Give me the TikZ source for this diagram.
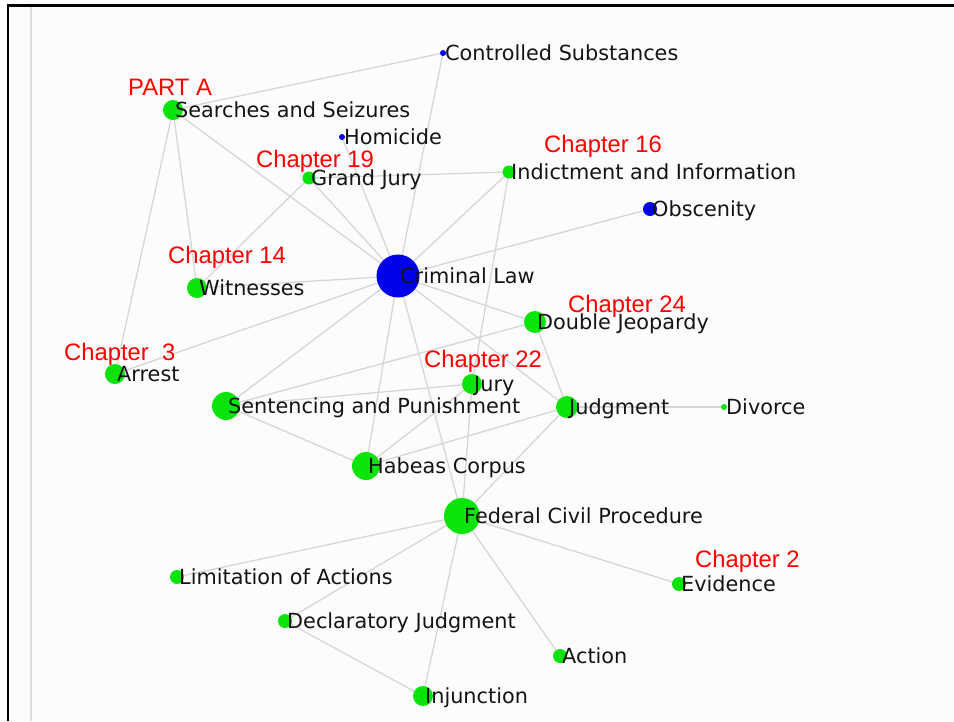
\documentclass[tikz,border=0pt]{standalone}
\usepackage{fontspec}
\setmainfont{DejaVu Sans}
\newfontfamily\redfont{Liberation Sans}
\pgfdeclarelayer{bglayer}
\pgfdeclarelayer{edgelayer}
\pgfsetlayers{bglayer,edgelayer,main}
\definecolor{ngreen}{RGB}{10,228,10}
\definecolor{nblue}{RGB}{0,0,235}
\definecolor{edgegray}{RGB}{214,214,214}
\definecolor{panel}{RGB}{252,252,252}
\definecolor{rulegray}{RGB}{220,220,220}
\definecolor{labtext}{RGB}{20,20,20}
\tikzset{
  gdot/.style={circle, fill=ngreen, inner sep=0pt, minimum size=#1},
  bdot/.style={circle, fill=nblue, inner sep=0pt, minimum size=#1},
  lab/.style={anchor=base west, inner sep=0pt, font=\fontsize{20.8}{22}\selectfont, text=labtext},
  chap/.style={anchor=base west, inner sep=0pt, font=\redfont\fontsize{23.8}{25}\selectfont, text=red},
  link/.style={draw=edgegray, line width=1.3pt},
}
\begin{document}
\begin{tikzpicture}[x=1pt,y=-1pt]
\useasboundingbox (0,0) rectangle (954,721);
\begin{pgfonlayer}{bglayer}
  \fill[white] (0,0) rectangle (954,721);
  \fill[panel] (8,5) rectangle (954,721);
  \draw[draw=rulegray, line width=1.5pt] (31,7) -- (31,721);
  \draw[black, line width=2.8pt] (8,721) -- (8,5.5) -- (954,5.5);
\end{pgfonlayer}

% dots
\node[bdot=6]  (cs)  at (443,53)  {};
\node[gdot=20] (ss)  at (173,110) {};
\node[bdot=6]  (ho)  at (342,137) {};
\node[gdot=13] (gj)  at (309,178) {};
\node[gdot=13] (ii)  at (509,172) {};
\node[bdot=14] (ob)  at (650,209) {};
\node[bdot=43] (cl)  at (398,276) {};
\node[gdot=20] (wi)  at (197,288) {};
\node[gdot=22] (dj)  at (535,322) {};
\node[gdot=20] (ar)  at (115,374) {};
\node[gdot=20] (jy)  at (472,384) {};
\node[gdot=28] (sp)  at (226,406) {};
\node[gdot=22] (jd)  at (567,407) {};
\node[gdot=6]  (dv)  at (724,407) {};
\node[gdot=28] (hc)  at (366,466) {};
\node[gdot=36] (fcp) at (462,516) {};
\node[gdot=14] (la)  at (177,577) {};
\node[gdot=14] (ev)  at (679,584) {};
\node[gdot=14] (de)  at (285,621) {};
\node[gdot=14] (ac)  at (560,656) {};
\node[gdot=20] (inj) at (423,696) {};

% labels
\node[lab] (csl)  at (445,60.5)  {Controlled Substances};
\node[lab] (ssl)  at (175,117.5) {Searches and Seizures};
\node[lab] (hol)  at (344,144.5) {Homicide};
\node[lab] (gjl)  at (311,185.5) {Grand Jury};
\node[lab] (iil)  at (511,179.5) {Indictment and Information};
\node[lab] (obl)  at (652,216.5) {Obscenity};
\node[lab] (cll)  at (400,283.5) {Criminal Law};
\node[lab] (wil)  at (199,295.5) {Witnesses};
\node[lab] (djl)  at (537,329.5) {Double Jeopardy};
\node[lab] (arl)  at (117,381.5) {Arrest};
\node[lab] (jyl)  at (474,391.5) {Jury};
\node[lab] (spl)  at (228,413.5) {Sentencing and Punishment};
\node[lab] (jdl)  at (569,414.5) {Judgment};
\node[lab] (dvl)  at (726,414.5) {Divorce};
\node[lab] (hcl)  at (368,473.5) {Habeas Corpus};
\node[lab] (fcpl) at (464,523.5) {Federal Civil Procedure};
\node[lab] (lal)  at (179,584.5) {Limitation of Actions};
\node[lab] (evl)  at (681,591.5) {Evidence};
\node[lab] (del)  at (287,628.5) {Declaratory Judgment};
\node[lab] (acl)  at (562,663.5) {Action};
\node[lab] (injl) at (425,703.5) {Injunction};

% red annotations
\node[chap] (c0)  at (128,95)  {PART A};
\node[chap] (c19) at (256,167) {Chapter 19};
\node[chap] (c14) at (168,263) {Chapter 14};
\node[chap] (c3)  at (64,360)  {Chapter\ \ 3};
\node[chap] (c16) at (544,152) {Chapter 16};
\node[chap] (c24) at (568,312) {Chapter 24};
\node[chap] (c22) at (424,367) {Chapter 22};
\node[chap] (c2)  at (695,567) {Chapter 2};

% edges
\begin{pgfonlayer}{edgelayer}
  \foreach \a/\b in {cl/ss, cl/cs, cl/ho, cl/gj, cl/ii, cl/ob, cl/wi, cl/ar,
                     cl/dj, cl/sp, cl/hc, cl/fcp, cl/jd,
                     ss/cs, ss/wi, ss/ar, gj/wi, gj/ii, ii/jy,
                     sp/dj, sp/jy, sp/hc, dj/jd, jy/hc, jy/fcp, hc/jd,
                     jd/fcp, jd/dv, fcp/la, fcp/de, fcp/inj, fcp/ac, fcp/ev, de/inj}
    \draw[link] (\a.center) -- (\b.center);
\end{pgfonlayer}
\end{tikzpicture}
\end{document}
